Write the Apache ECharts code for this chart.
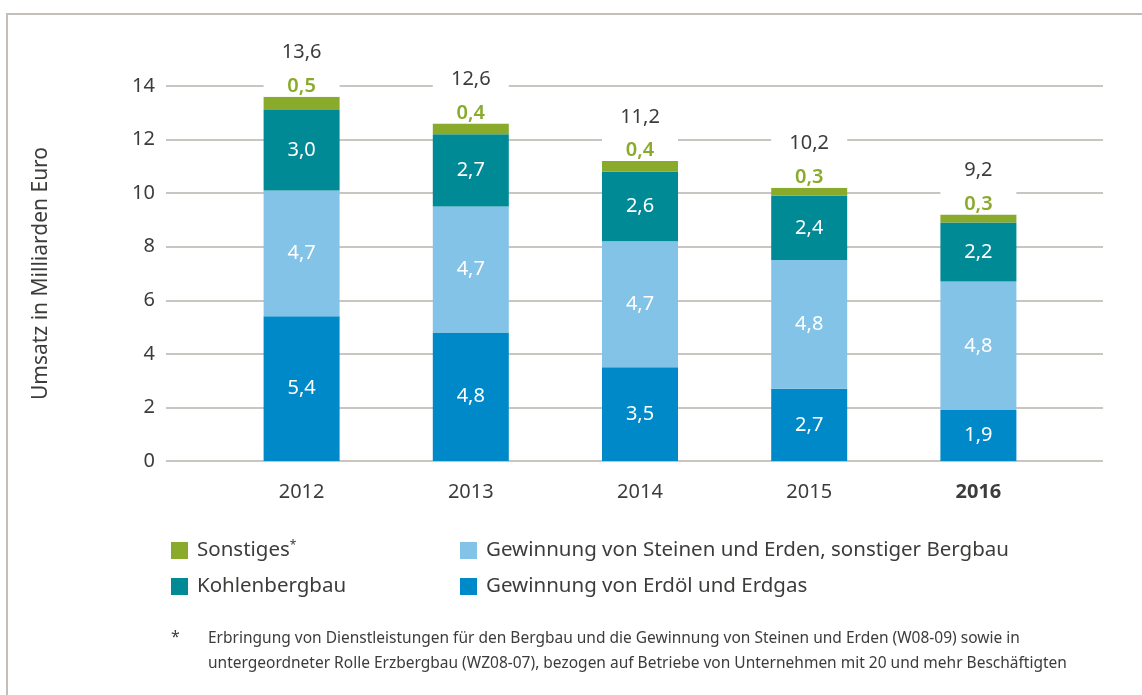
<!DOCTYPE html>
<html>
<head>
<meta charset="utf-8">
<script src="https://cdn.jsdelivr.net/npm/echarts@6/dist/echarts.min.js"></script>
<style>
  html, body { margin: 0; padding: 0; background: #fff; }
  #chart { width: 1142px; height: 695px; }
</style>
</head>
<body>
<div id="chart"></div>
<script>
// Daten
const years = ['2012', '2013', '2014', '2015', '2016']
const erdoelErdgas = [5.4, 4.8, 3.5, 2.7, 1.9]
const steineErden = [4.7, 4.7, 4.7, 4.8, 4.8]
const kohle = [3.0, 2.7, 2.6, 2.4, 2.2]
const sonstiges = [0.5, 0.4, 0.4, 0.3, 0.3]
const totals = [13.6, 12.6, 11.2, 10.2, 9.2]
const yTicks = [0, 2, 4, 6, 8, 10, 12, 14]

const FONT = 'Noto Sans'
const TEXT = '#3c3c3b'
const GRID = '#c9c5c0'
const fmt = (v) => v.toFixed(1).replace('.', ',')

const chart = echarts.init(document.getElementById('chart'))

const inner = {
  show: true,
  position: 'inside',
  color: '#fff',
  fontSize: 20,
  fontFamily: FONT,
  formatter: (p) => fmt(p.value),
}

const option = {
  animation: false,
  textStyle: { fontFamily: FONT },
  title: [
    {
      text: '*',
      left: 166,
      top: 624,
      textStyle: { fontSize: 16, fontWeight: 'normal', color: TEXT, fontFamily: FONT },
    },
    {
      text:
        'Erbringung von Dienstleistungen für den Bergbau und die Gewinnung von Steinen und Erden (W08-09) sowie in\n' +
        'untergeordneter Rolle Erzbergbau (WZ08-07), bezogen auf Betriebe von Unternehmen mit 20 und mehr Beschäftigten',
      left: 203,
      top: 621,
      textStyle: { fontSize: 15.5, fontWeight: 'normal', color: TEXT, lineHeight: 25, fontFamily: FONT },
    },
  ],
  graphic: [
    {
      type: 'polyline',
      shape: { points: [[7, 700], [7, 14], [1150, 14]] },
      style: { stroke: '#c3beb8', lineWidth: 2, fill: null },
    },
  ],
  legend: [
    {
      data: ['Sonstiges', 'Kohlenbergbau'],
      orient: 'vertical',
      left: 166,
      top: 535,
      icon: 'rect',
      itemWidth: 17,
      itemHeight: 17,
      itemGap: 15,
      selectedMode: false,
      formatter: (n) => (n === 'Sonstiges' ? 'Sonstiges{s|*}' : n),
      textStyle: {
        fontSize: 20.5,
        color: TEXT,
        fontFamily: FONT,
        padding: [0, 0, 0, 4],
        rich: { s: { fontSize: 12, color: TEXT, padding: [0, 0, 9, 0] } },
      },
    },
    {
      data: ['Gewinnung von Steinen und Erden, sonstiger Bergbau', 'Gewinnung von Erdöl und Erdgas'],
      orient: 'vertical',
      left: 455,
      top: 535,
      icon: 'rect',
      itemWidth: 17,
      itemHeight: 17,
      itemGap: 15,
      selectedMode: false,
      textStyle: { fontSize: 20.5, color: TEXT, fontFamily: FONT, padding: [0, 0, 0, 4] },
    },
  ],
  grid: [
    { left: 166, right: 39, top: 86, bottom: 234 },
    { left: 217, right: 79, top: 86, bottom: 234 },
  ],
  xAxis: [
    { gridIndex: 0, type: 'category', data: years, show: false },
    {
      gridIndex: 1,
      type: 'category',
      data: years,
      axisLine: { show: false },
      axisTick: { show: false },
      axisLabel: {
        margin: 21,
        fontSize: 20,
        color: TEXT,
        fontFamily: FONT,
        formatter: (v) => (v === '2016' ? '{b|' + v + '}' : v),
        rich: { b: { fontSize: 20, fontWeight: 'bold', color: TEXT, fontFamily: FONT } },
      },
    },
  ],
  yAxis: [
    {
      gridIndex: 0,
      type: 'value',
      min: yTicks[0],
      max: yTicks[yTicks.length - 1],
      interval: 2,
      name: 'Umsatz in Milliarden Euro',
      nameLocation: 'middle',
      nameGap: 114,
      nameTextStyle: { fontSize: 21, color: TEXT, fontFamily: FONT },
      axisLine: { show: false },
      axisTick: { show: false },
      axisLabel: { margin: 11, fontSize: 20, color: TEXT, fontFamily: FONT },
      splitLine: { lineStyle: { color: GRID, width: 2 } },
    },
    {
      gridIndex: 1,
      type: 'value',
      min: yTicks[0],
      max: yTicks[yTicks.length - 1],
      interval: 2,
      show: false,
      splitLine: { show: false },
    },
  ],
  series: [
    {
      name: 'Gewinnung von Erdöl und Erdgas',
      type: 'bar',
      stack: 'u',
      xAxisIndex: 1,
      yAxisIndex: 1,
      barWidth: 76,
      data: erdoelErdgas,
      itemStyle: { color: '#0089c9' },
      label: inner,
    },
    {
      name: 'Gewinnung von Steinen und Erden, sonstiger Bergbau',
      type: 'bar',
      stack: 'u',
      xAxisIndex: 1,
      yAxisIndex: 1,
      barWidth: 76,
      data: steineErden,
      itemStyle: { color: '#83c3e7' },
      label: inner,
    },
    {
      name: 'Kohlenbergbau',
      type: 'bar',
      stack: 'u',
      xAxisIndex: 1,
      yAxisIndex: 1,
      barWidth: 76,
      data: kohle,
      itemStyle: { color: '#008a96' },
      label: inner,
    },
    {
      name: 'Sonstiges',
      type: 'bar',
      stack: 'u',
      xAxisIndex: 1,
      yAxisIndex: 1,
      barWidth: 76,
      data: sonstiges,
      itemStyle: { color: '#8aaa2b' },
      label: {
        show: true,
        position: 'top',
        distance: 0,
        backgroundColor: '#fff',
        formatter: (p) => '{t|' + fmt(totals[p.dataIndex]) + '}\n{g|' + fmt(p.value) + '}',
        rich: {
          t: { fontSize: 20, color: TEXT, fontFamily: FONT, lineHeight: 46, width: 76, align: 'center' },
          g: { fontSize: 20, fontWeight: 600, color: '#8aaa2b', fontFamily: FONT, lineHeight: 21, width: 76, align: 'center' },
        },
      },
    },
  ],
}

chart.setOption(option)
</script>
</body>
</html>
